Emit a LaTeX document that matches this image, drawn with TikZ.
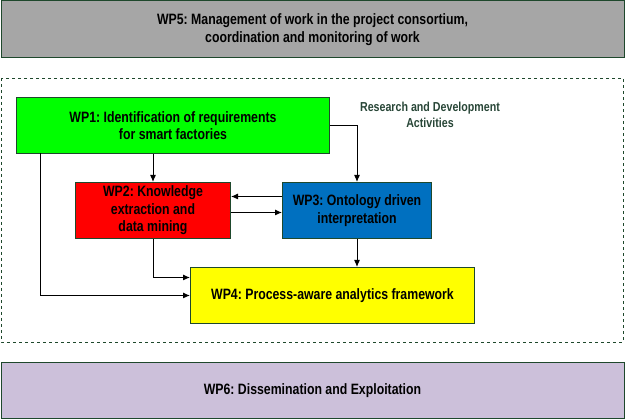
\documentclass[tikz,border=0pt]{standalone}
\usepackage{fontspec}
\setmainfont{Liberation Sans}[FakeStretch=0.82]
\usetikzlibrary{shapes,arrows,arrows.meta,positioning,fit,calc}
\definecolor{frame}{RGB}{30,72,44}
\definecolor{wpgray}{RGB}{166,166,166}
\definecolor{wpgreen}{RGB}{0,255,0}
\definecolor{wpred}{RGB}{255,0,0}
\definecolor{wpblue}{RGB}{0,112,192}
\definecolor{wpyellow}{RGB}{255,255,0}
\definecolor{wplilac}{RGB}{204,192,218}
\definecolor{rdtext}{RGB}{40,70,55}
\frenchspacing
\begin{document}
\begin{tikzpicture}[x=1pt, y=-1pt,
  wp/.style={draw=frame, line width=1pt, anchor=north west, align=center, inner sep=0pt, font=\fontsize{15}{17.5}\selectfont\bfseries},
  link/.style={-{Latex[length=7pt,width=6pt]}, line width=1pt}]
\useasboundingbox (0,0) rectangle (625,419);
% management and dissemination
\node[wp, fill=wpgray, minimum width=623pt, minimum height=57pt] (wp5) at (0.5,0.5) {WP5: Management of work in the project consortium,\\coordination and monitoring of work};
\node[wp, fill=wplilac, minimum width=623pt, minimum height=56pt] (wp6) at (0.5,362) {WP6: Dissemination and Exploitation};
% research and development
\draw[frame, dashed, line width=0.6pt] (1,78) rectangle (623,342);
\node[text=rdtext, align=center, font=\fontsize{13}{16}\selectfont\bfseries] (rd) at (430,115) {Research and Development\\Activities};
\node[wp, fill=wpgreen, minimum width=313pt, minimum height=56pt] (wp1) at (16,97) {WP1: Identification of requirements\\for smart factories};
\node[wp, fill=wpred, minimum width=155pt, minimum height=56pt] (wp2) at (75,182) {WP2: Knowledge\\extraction and\\data mining};
\node[wp, fill=wpblue, minimum width=149pt, minimum height=56pt] (wp3) at (282,182) {WP3: Ontology driven\\interpretation};
\node[wp, fill=wpyellow, minimum width=284pt, minimum height=56pt] (wp4) at (190,267) {WP4: Process-aware analytics framework};
\coordinate (split) at (40,153);
\draw[link] (wp2.north |- wp1.south) -- (wp2.north);
\draw[link] (wp1.east) -| (wp3.north);
\draw[link] (split) |- (wp4.west);
\draw[link] (wp2.south) |- ([yshift=18pt]wp4.west);
\draw[link] ([yshift=14pt]wp3.west) -- ([yshift=14pt]wp2.east);
\draw[link] ([yshift=-2pt]wp2.east) -- ([yshift=-2pt]wp3.west);
\draw[link] (wp3.south) -- (wp3.south |- wp4.north);
\end{tikzpicture}
\end{document}
